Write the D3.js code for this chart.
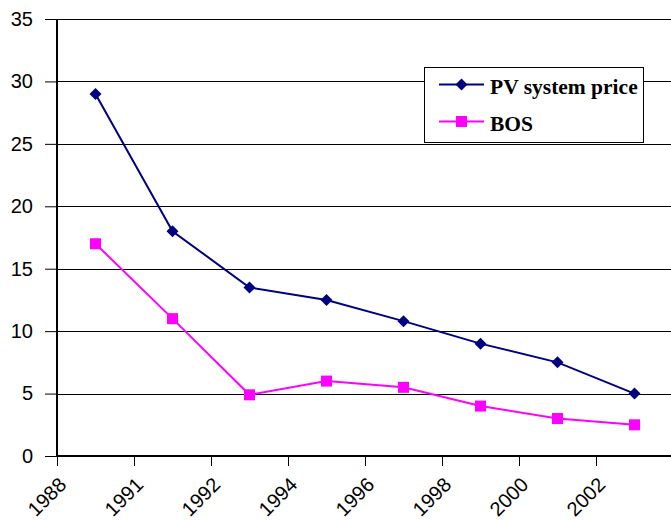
<!DOCTYPE html>
<html>
<head>
<meta charset="utf-8">
<script src="https://cdn.jsdelivr.net/npm/d3@7"></script>
<style>
  body { margin: 0; background: #fff; }
  svg { display: block; }
</style>
</head>
<body>
<div id="chart_container"></div>
<script>

// Data
const years = [1989, 1991, 1993, 1995, 1997, 1999, 2001, 2003]
const tickLabels = ["1988", "1991", "1992", "1994", "1996", "1998", "2000", "2002"]
const pvPrice = [29, 18, 13.5, 12.5, 10.8, 9, 7.5, 5]
const bos = [17, 11, 4.9, 6, 5.5, 4, 3, 2.5]
const yTicks = [0, 5, 10, 15, 20, 25, 30, 35]

// Layout
const svgWidth = 671
const svgHeight = 520
const plotLeft = 57
const plotRight = 673
const plotTop = 19
const plotBottom = 456
const tickFont = "'Liberation Sans', Arial, sans-serif"
const legendFont = "'Liberation Serif', 'Times New Roman', serif"

const svg = d3.select("#chart_container").append("svg")
  .attr("width", svgWidth)
  .attr("height", svgHeight)

const x = d3.scaleLinear().domain([0, years.length]).range([plotLeft, plotRight])
const y = d3.scaleLinear().domain([0, 35]).range([plotBottom, plotTop])

// gridlines
svg.selectAll(".grid")
  .data(yTicks.slice(1))
  .join("line")
  .attr("x1", plotLeft)
  .attr("x2", svgWidth)
  .attr("y1", d => Math.round(y(d)) + 0.5)
  .attr("y2", d => Math.round(y(d)) + 0.5)
  .attr("stroke", "#000")
  .attr("stroke-width", 1)

// y axis
const yAxis = svg.append("g")
  .attr("transform", `translate(${plotLeft}, 0)`)
  .call(d3.axisLeft(y).tickValues(yTicks).tickSize(12).tickPadding(12))
yAxis.select(".domain").remove()
yAxis.selectAll(".tick line").attr("stroke", "#000")
yAxis.selectAll(".tick text")
  .style("font-family", tickFont)
  .style("font-size", "20px")
  .attr("fill", "#000")
svg.append("line")
  .attr("x1", plotLeft).attr("x2", plotLeft)
  .attr("y1", plotTop).attr("y2", plotBottom + 1)
  .attr("stroke", "#000").attr("stroke-width", 2)

// x axis
const xAxis = svg.append("g")
  .attr("transform", `translate(0, ${plotBottom})`)
  .call(d3.axisBottom(x)
    .tickValues(d3.range(tickLabels.length))
    .tickFormat(i => tickLabels[i])
    .tickSize(10))
xAxis.select(".domain").remove()
xAxis.selectAll(".tick line").attr("stroke", "#000")
xAxis.selectAll(".tick text")
  .style("font-family", tickFont)
  .style("font-size", "20px")
  .attr("fill", "#000")
  .attr("text-anchor", "end")
  .attr("dy", null)
  .attr("y", null)
  .attr("transform", "translate(10, 30) rotate(-45)")
svg.append("line")
  .attr("x1", plotLeft).attr("x2", svgWidth)
  .attr("y1", plotBottom).attr("y2", plotBottom)
  .attr("stroke", "#000").attr("stroke-width", 2)

// series
const line = d3.line()
  .x((d, i) => x(i + 0.5))
  .y(d => y(d))

svg.append("path")
  .datum(bos)
  .attr("fill", "none")
  .attr("stroke", "#ff00ff")
  .attr("stroke-width", 2)
  .attr("d", line)

svg.selectAll(".bosPt")
  .data(bos)
  .join("rect")
  .attr("x", (d, i) => x(i + 0.5) - 5.5)
  .attr("y", d => y(d) - 5.5)
  .attr("width", 11)
  .attr("height", 11)
  .attr("fill", "#ff00ff")

svg.append("path")
  .datum(pvPrice)
  .attr("fill", "none")
  .attr("stroke", "#000080")
  .attr("stroke-width", 2)
  .attr("d", line)

const diamond = d3.symbol().type(d3.symbolSquare).size(72)
svg.selectAll(".pvPt")
  .data(pvPrice)
  .join("path")
  .attr("d", diamond)
  .attr("transform", (d, i) => `translate(${x(i + 0.5)}, ${y(d)}) rotate(45)`)
  .attr("fill", "#000080")

// legend
svg.append("rect")
  .attr("x", 424.5).attr("y", 67.5)
  .attr("width", 219).attr("height", 75)
  .attr("fill", "#fff")
  .attr("stroke", "#000")
  .attr("stroke-width", 1)

const legendItems = [
  { name: "PV system price", color: "#000080", shape: "diamond", yPos: 84.5 },
  { name: "BOS", color: "#ff00ff", shape: "square", yPos: 121.5 }
]
legendItems.forEach(item => {
  svg.append("line")
    .attr("x1", 439).attr("x2", 484)
    .attr("y1", item.yPos).attr("y2", item.yPos)
    .attr("stroke", item.color).attr("stroke-width", 2)
  if (item.shape === "diamond") {
    svg.append("path")
      .attr("d", diamond)
      .attr("transform", `translate(461.5, ${item.yPos}) rotate(45)`)
      .attr("fill", item.color)
  } else {
    svg.append("rect")
      .attr("x", 456).attr("y", item.yPos - 5.5)
      .attr("width", 11).attr("height", 11)
      .attr("fill", item.color)
  }
  svg.append("text")
    .attr("x", 490)
    .attr("y", item.yPos + 9.5)
    .style("font-family", legendFont)
    .style("font-size", "21.5px")
    .style("font-weight", "bold")
    .text(item.name)
})

</script>
</body>
</html>
